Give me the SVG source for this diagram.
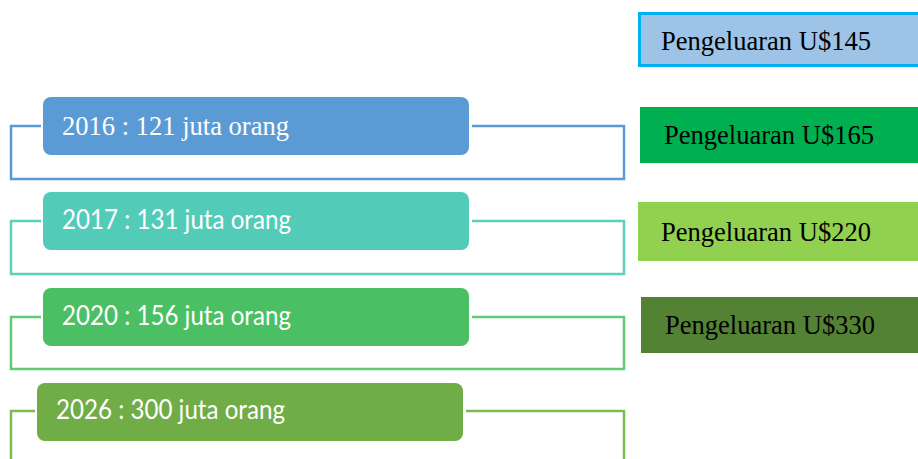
<svg xmlns="http://www.w3.org/2000/svg" width="918" height="459" viewBox="0 0 918 459">
<style>
.frame{fill:none;stroke-width:2.5}
.yr{rx:8;ry:8}
.t1{font-family:"Liberation Serif",serif;font-size:27px;fill:#ffffff}
.t2{font-family:Lato,"Open Sans",sans-serif;font-size:26px;fill:#ffffff}
.tp{font-family:"Liberation Serif",serif;font-size:27px;fill:#000000}
</style>
<rect width="918" height="459" fill="#ffffff"/>
<g id="connectors">
<path class="frame" stroke="#5b9bd5" d="M41,126 H11 V179 H624 V126 H472"/>
<path class="frame" stroke="#5ccfbd" d="M41,221 H11 V274 H624 V221 H472"/>
<path class="frame" stroke="#5fcb76" d="M41,317 H11 V369 H624 V317 H472"/>
<path class="frame" stroke="#7cbb4e" d="M35,411 H11 V462 M624,462 V411 H466"/>
</g>
<g id="y2016">
<rect class="yr" x="43" y="97" width="426" height="58" fill="#5b9bd5"/>
<text class="t1" x="62" y="135" textLength="227" lengthAdjust="spacingAndGlyphs">2016 : 121 juta orang</text>
</g>
<g id="y2017">
<rect class="yr" x="43" y="192" width="426" height="58" fill="#53cbb9"/>
<text class="t2" x="62" y="229" textLength="229" lengthAdjust="spacingAndGlyphs">2017 : 131 juta orang</text>
</g>
<g id="y2020">
<rect class="yr" x="43" y="288" width="426" height="58" fill="#4abf63"/>
<text class="t2" x="62" y="325" textLength="229" lengthAdjust="spacingAndGlyphs">2020 : 156 juta orang</text>
</g>
<g id="y2026">
<rect class="yr" x="37" y="383" width="426" height="58" fill="#70ad47"/>
<text class="t2" x="56" y="419" textLength="229" lengthAdjust="spacingAndGlyphs">2026 : 300 juta orang</text>
</g>
<g id="p145">
<rect x="639.5" y="13.5" width="280" height="52" fill="#9dc3e6" stroke="#00b0f0" stroke-width="3"/>
<text class="tp" x="661" y="50" textLength="210" lengthAdjust="spacingAndGlyphs">Pengeluaran U$145</text>
</g>
<g id="p165">
<rect x="640" y="107" width="278" height="56" fill="#00b050"/>
<text class="tp" x="664" y="144" textLength="210" lengthAdjust="spacingAndGlyphs">Pengeluaran U$165</text>
</g>
<g id="p220">
<rect x="638" y="202" width="280" height="59" fill="#92d050"/>
<text class="tp" x="661" y="241" textLength="210" lengthAdjust="spacingAndGlyphs">Pengeluaran U$220</text>
</g>
<g id="p330">
<rect x="641" y="297" width="277" height="56" fill="#548235"/>
<text class="tp" x="665" y="334" textLength="210" lengthAdjust="spacingAndGlyphs">Pengeluaran U$330</text>
</g>
</svg>
